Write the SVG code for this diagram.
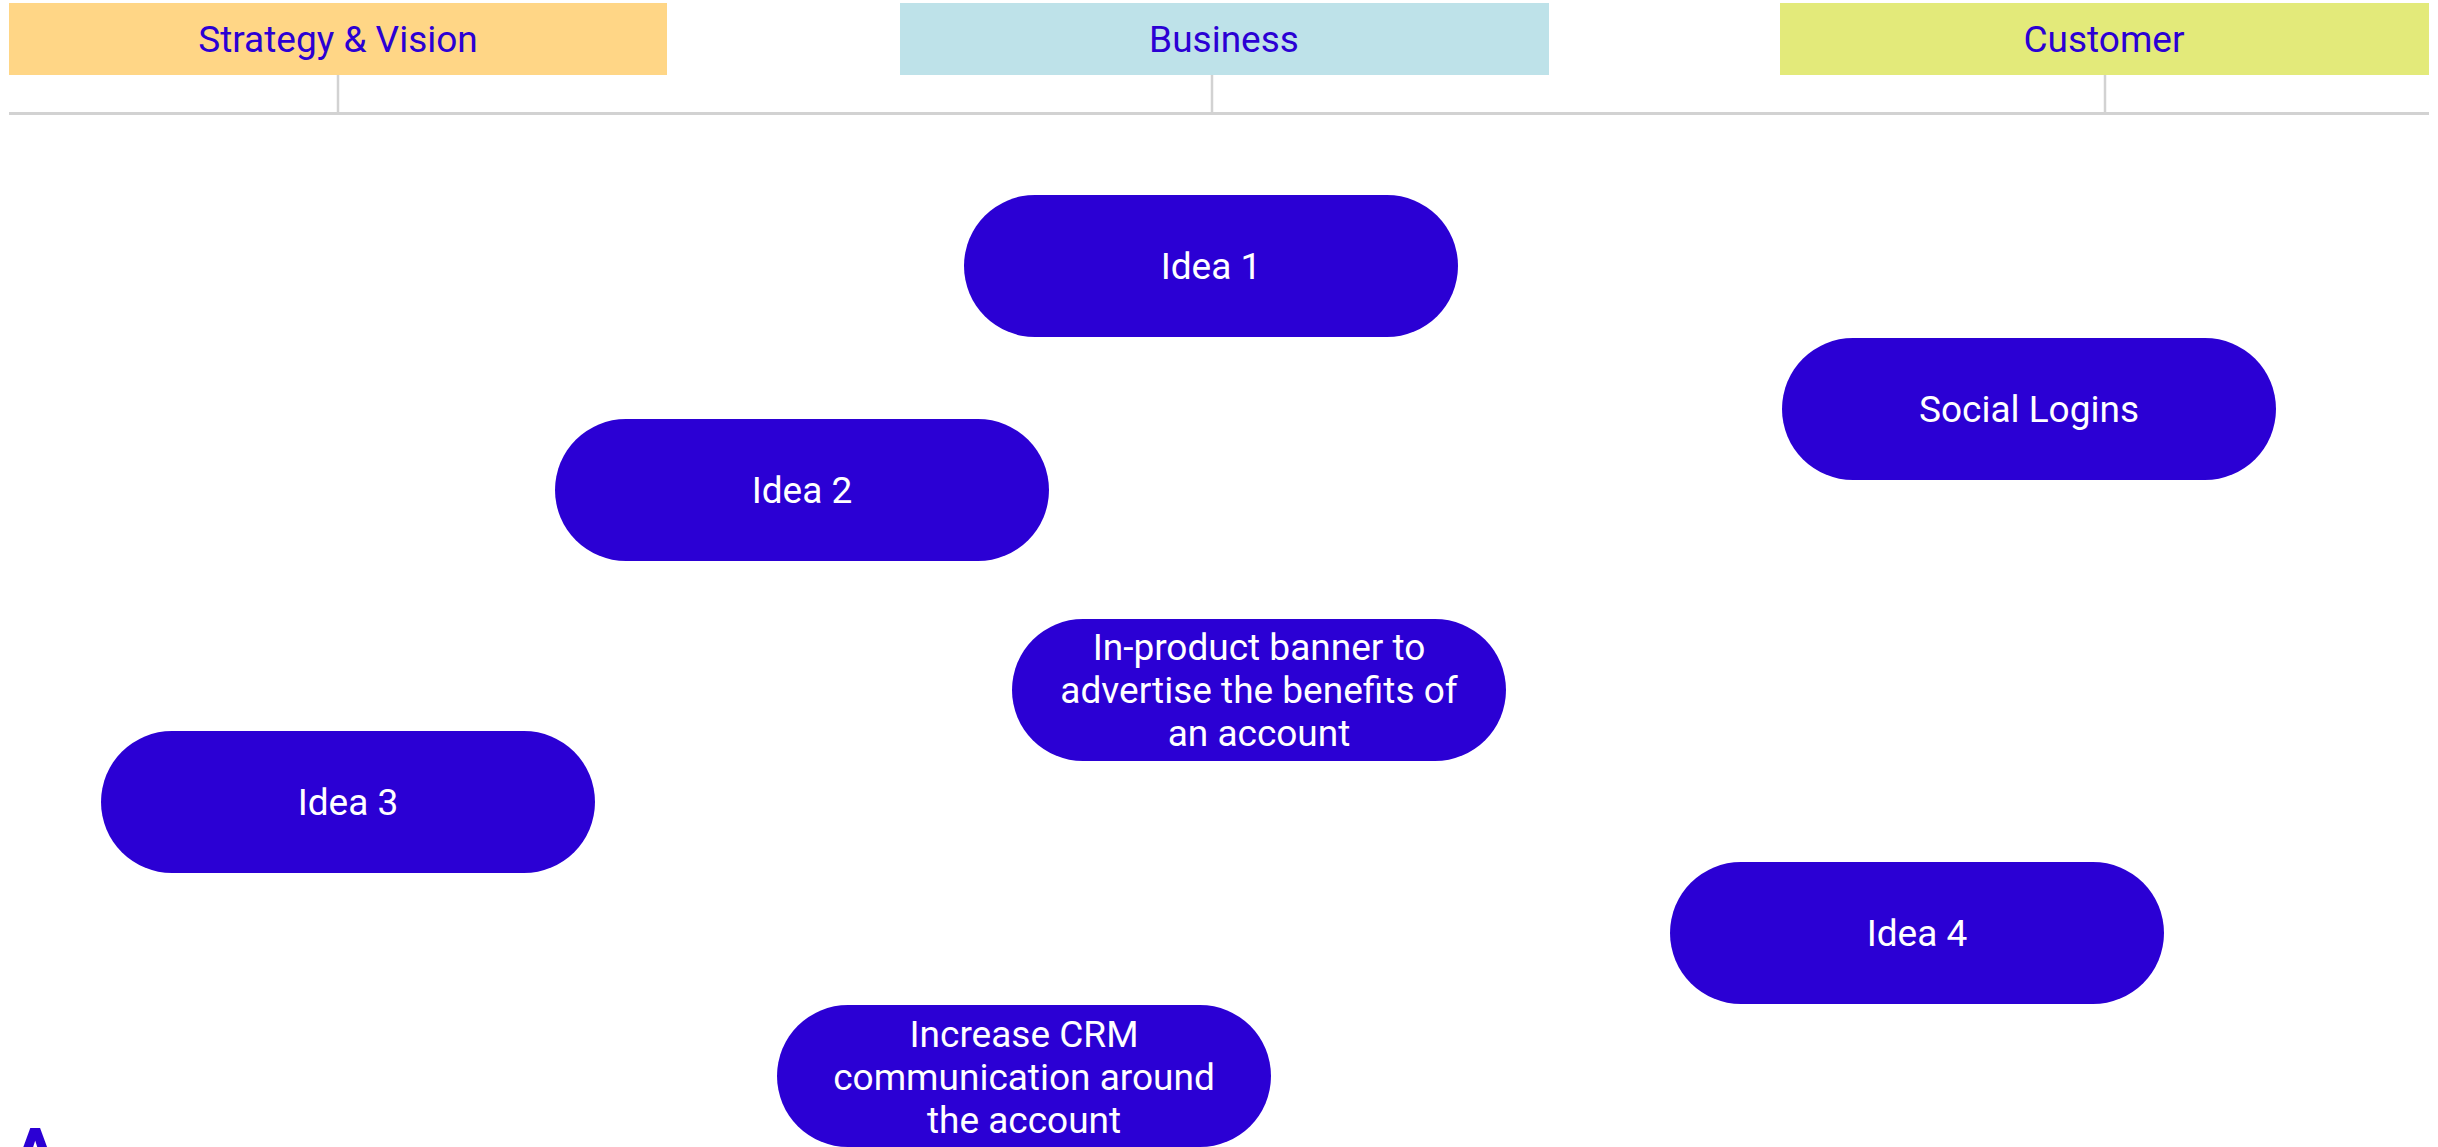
<svg xmlns="http://www.w3.org/2000/svg" width="2438" height="1147" viewBox="0 0 2438 1147">
  <style>
    .hdr-text { font-family: Roboto, "Liberation Sans", sans-serif; font-size: 37px; fill: #2b00d4; text-anchor: middle; }
    .pill { fill: #2b00d4; }
    .pill-text { font-family: Roboto, "Liberation Sans", sans-serif; font-size: 37px; fill: #ffffff; text-anchor: middle; }
    .axis { stroke: #d2d2d2; stroke-width: 3; fill: none; }
    .tick { stroke: #d2d2d2; stroke-width: 2.5; fill: none; }
  </style>
  <rect width="2438" height="1147" fill="#ffffff"/>

  <!-- column headers -->
  <g id="header-strategy">
    <rect x="9" y="3" width="658" height="72" fill="#ffd686"/>
    <text class="hdr-text" x="338" y="52">Strategy &amp; Vision</text>
  </g>
  <g id="header-business">
    <rect x="900" y="3" width="649" height="72" fill="#bee2e9"/>
    <text class="hdr-text" x="1224" y="52">Business</text>
  </g>
  <g id="header-customer">
    <rect x="1780" y="3" width="649" height="72" fill="#e3ea7a"/>
    <text class="hdr-text" x="2104" y="52">Customer</text>
  </g>

  <!-- axis and header ticks -->
  <g id="connectors">
    <line class="axis" x1="9" y1="113.5" x2="2429" y2="113.5"/>
    <line class="tick" x1="338" y1="75" x2="338" y2="113"/>
    <line class="tick" x1="1212" y1="75" x2="1212" y2="113"/>
    <line class="tick" x1="2105" y1="75" x2="2105" y2="113"/>
  </g>

  <!-- idea pills -->
  <g id="idea-1">
    <rect class="pill" x="964" y="195" width="494" height="142" rx="71"/>
    <text class="pill-text" x="1211" y="279">Idea 1</text>
  </g>
  <g id="social-logins">
    <rect class="pill" x="1782" y="338" width="494" height="142" rx="71"/>
    <text class="pill-text" x="2029" y="422">Social Logins</text>
  </g>
  <g id="idea-2">
    <rect class="pill" x="555" y="419" width="494" height="142" rx="71"/>
    <text class="pill-text" x="802" y="503">Idea 2</text>
  </g>
  <g id="in-product-banner">
    <rect class="pill" x="1012" y="619" width="494" height="142" rx="71"/>
    <text class="pill-text" x="1259" y="660">In-product banner to</text>
    <text class="pill-text" x="1259" y="703">advertise the benefits of</text>
    <text class="pill-text" x="1259" y="746">an account</text>
  </g>
  <g id="idea-3">
    <rect class="pill" x="101" y="731" width="494" height="142" rx="71"/>
    <text class="pill-text" x="348" y="815">Idea 3</text>
  </g>
  <g id="idea-4">
    <rect class="pill" x="1670" y="862" width="494" height="142" rx="71"/>
    <text class="pill-text" x="1917" y="946">Idea 4</text>
  </g>
  <g id="increase-crm">
    <rect class="pill" x="777" y="1005" width="494" height="142" rx="71"/>
    <text class="pill-text" x="1024" y="1047">Increase CRM</text>
    <text class="pill-text" x="1024" y="1090">communication around</text>
    <text class="pill-text" x="1024" y="1133">the account</text>
  </g>

  <!-- corner letter, runs past the bottom edge -->
  <text x="11" y="1180" font-family="Roboto, 'Liberation Sans', sans-serif" font-size="72" font-weight="bold" fill="#2b00d4">A</text>
</svg>
